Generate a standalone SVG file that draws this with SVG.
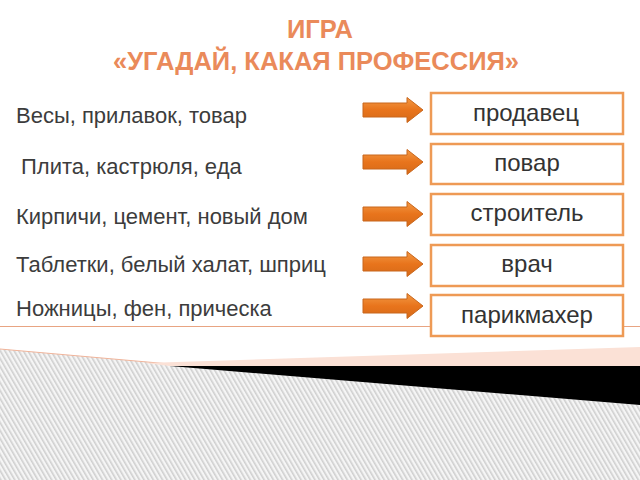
<svg xmlns="http://www.w3.org/2000/svg" width="640" height="480" viewBox="0 0 640 480">
<defs>
<pattern id="hatch" width="4" height="4" patternUnits="userSpaceOnUse" patternTransform="rotate(-30)">
<rect width="4" height="4" fill="#f5f5f5"/>
<rect width="1.6" height="4" fill="#cfcfcf"/>
</pattern>
<linearGradient id="ag" x1="0" y1="0" x2="0" y2="1">
<stop offset="0" stop-color="#f39a45"/>
<stop offset="0.5" stop-color="#e8741c"/>
<stop offset="1" stop-color="#d66a18"/>
</linearGradient>
<path id="arr" d="M0,-7 H44 V-12.5 L60,0 L44,12.5 V7 H0 Z"/>
</defs>
<style>
.t{font-family:"Liberation Sans",Arial,sans-serif;font-size:22px;fill:#3c3c3c}
.h{font-family:"Liberation Sans",Arial,sans-serif;font-size:25.5px;font-weight:bold;fill:#ea8a5a;text-anchor:middle}
.box{fill:#fff;stroke:#ee9a55;stroke-width:2.5}
.bt{font-family:"Liberation Sans",Arial,sans-serif;font-size:24px;fill:#333;text-anchor:middle}
.a{fill:url(#ag);stroke:#c8661c;stroke-width:1}
</style>
<rect width="640" height="480" fill="#fff"/>
<!-- bottom decoration -->
<polygon points="0,349 640,405 640,480 0,480" fill="url(#hatch)"/>
<line x1="0" y1="349" x2="170" y2="364" stroke="#f0b49a" stroke-width="1"/>
<polygon points="145,363 640,347 640,366 170,366" fill="#fbe1d6"/>
<polygon points="170,366 640,366 640,405" fill="#000"/>
<line x1="0" y1="326.5" x2="640" y2="326.5" stroke="#e8a482" stroke-width="1"/>
<!-- title -->
<text class="h" x="320" y="38">ИГРА</text>
<text class="h" x="316" y="70">«УГАДАЙ, КАКАЯ ПРОФЕССИЯ»</text>
<!-- clues -->
<g id="clue1"><text class="t" x="16" y="123">Весы, прилавок, товар</text></g>
<g id="clue2"><text class="t" x="21" y="174">Плита, кастрюля, еда</text></g>
<g id="clue3"><text class="t" x="16" y="224">Кирпичи, цемент, новый дом</text></g>
<g id="clue4"><text class="t" x="16" y="272">Таблетки, белый халат, шприц</text></g>
<g id="clue5"><text class="t" x="16" y="316">Ножницы, фен, прическа</text></g>
<!-- connectors -->
<g id="connectors">
<use href="#arr" class="a" x="363" y="110"/>
<use href="#arr" class="a" x="363" y="162"/>
<use href="#arr" class="a" x="363" y="214"/>
<use href="#arr" class="a" x="363" y="264"/>
<use href="#arr" class="a" x="363" y="306"/>
</g>
<!-- answers -->
<g id="ans1"><rect class="box" x="431" y="93" width="192" height="41"/><text class="bt" x="526" y="121">продавец</text></g>
<g id="ans2"><rect class="box" x="431" y="144" width="192" height="40"/><text class="bt" x="527" y="171">повар</text></g>
<g id="ans3"><rect class="box" x="431" y="194" width="192" height="41"/><text class="bt" x="527" y="221">строитель</text></g>
<g id="ans4"><rect class="box" x="431" y="245" width="192" height="41"/><text class="bt" x="527" y="272">врач</text></g>
<g id="ans5"><rect class="box" x="431" y="295" width="192" height="41"/><text class="bt" x="527" y="323">парикмахер</text></g>
</svg>
